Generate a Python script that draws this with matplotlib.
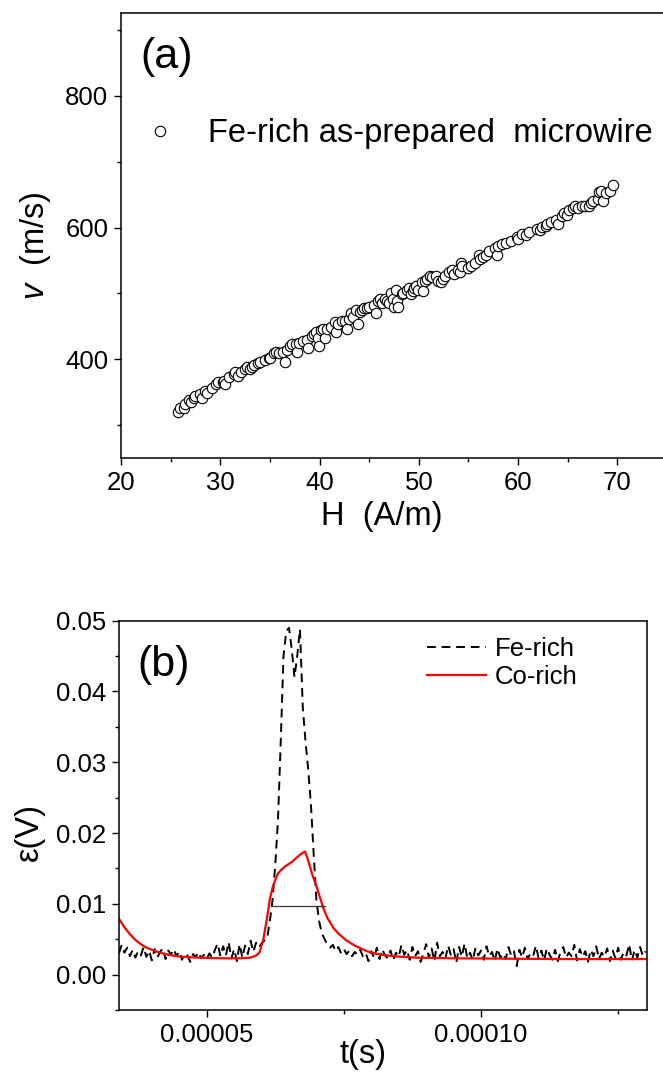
import numpy as np
import matplotlib
matplotlib.use("Agg")
import matplotlib.pyplot as plt
from matplotlib.ticker import MultipleLocator, FormatStrFormatter

plt.rcParams['font.family'] = ['Liberation Sans', 'DejaVu Sans']
plt.rcParams['mathtext.fontset'] = 'custom'
plt.rcParams['mathtext.rm'] = 'Liberation Sans'
plt.rcParams['mathtext.it'] = 'Liberation Sans:italic'

# ---- panel (a): domain wall velocity vs field ----
H_am = [25.7, 25.9, 26.3, 26.4, 26.9, 27.1, 27.4, 27.5, 28.0, 28.2, 28.5, 28.7, 29.2, 29.6,
        29.8, 30.3, 30.4, 30.5, 30.9, 31.4, 31.5, 31.8, 32.1, 32.5, 32.7, 33.0, 33.2, 33.4,
        33.8, 34.0, 34.5, 34.9, 35.0, 35.4, 35.6, 35.9, 36.3, 36.5, 36.7, 37.0, 37.2, 37.6,
        37.7, 37.9, 38.3, 38.7, 38.8, 39.2, 39.4, 39.6, 39.8, 39.9, 40.1, 40.3, 40.5, 40.8,
        41.2, 41.6, 41.7, 41.9, 42.3, 42.6, 42.8, 43.0, 43.2, 43.4, 43.7, 43.9, 44.1, 44.3,
        44.5, 44.8, 45.0, 45.5, 45.7, 45.9, 46.1, 46.3, 46.6, 46.8, 47.0, 47.2, 47.4, 47.5,
        47.7, 47.8, 47.9, 48.3, 48.4, 48.8, 49.0, 49.2, 49.4, 49.5, 49.7, 49.9, 50.3, 50.4,
        50.6, 50.8, 51.1, 51.3, 51.7, 51.9, 52.2, 52.4, 52.6, 53.0, 53.3, 53.5, 53.9, 54.1,
        54.2, 54.4, 55.0, 55.3, 55.7, 56.1, 56.2, 56.5, 56.8, 57.1, 57.7, 57.9, 58.0, 58.4,
        58.8, 59.3, 59.9, 60.0, 60.4, 60.8, 61.1, 61.9, 62.2, 62.4, 62.8, 62.9, 63.3, 63.8,
        64.0, 64.4, 64.6, 64.9, 65.1, 65.5, 65.7, 66.0, 66.4, 66.7, 67.1, 67.3, 67.5, 68.0,
        68.2, 68.4, 68.6, 68.9, 69.3, 69.6]
v_ms = [320, 326, 326, 333, 339, 336, 341, 344, 347, 341, 352, 349, 357, 362,
        365, 365, 368, 362, 373, 378, 381, 375, 381, 386, 389, 386, 389, 391,
        394, 396, 399, 402, 402, 409, 412, 409, 412, 396, 415, 420, 423, 423,
        412, 425, 428, 430, 417, 436, 438, 441, 433, 420, 444, 446, 433, 446,
        449, 457, 441, 454, 459, 459, 446, 462, 470, 465, 475, 454, 472, 475,
        478, 478, 480, 483, 470, 488, 491, 486, 491, 488, 486, 501, 491, 480,
        506, 488, 480, 499, 501, 506, 509, 499, 504, 509, 512, 506, 517, 504,
        519, 522, 527, 525, 527, 519, 517, 522, 527, 533, 535, 530, 535, 533,
        546, 541, 538, 541, 546, 559, 553, 556, 559, 564, 569, 559, 572, 575,
        577, 580, 585, 582, 590, 588, 593, 598, 596, 601, 603, 606, 609, 611,
        606, 617, 622, 619, 627, 630, 632, 630, 632, 633, 632, 638, 640, 643,
        654, 656, 640, 653, 656, 664]

# ---- panel (b): induced voltage pulses ----
# Fe-rich trace, sampled every 0.5 us from 34 us to 130 us (values in mV)
eps_fe_mv = [3.0, 4.2, 3.1, 3.8, 2.6, 3.5, 2.4, 3.3, 2.7, 3.9, 2.5, 3.4, 2.0, 3.6, 2.4, 3.2,
             3.7, 2.2, 3.4, 2.8, 3.6, 2.6, 3.3, 2.1, 3.0, 2.7, 1.8, 2.9, 2.5, 3.2, 2.3, 2.8,
             2.2, 3.0, 2.4, 3.5, 4.4, 2.6, 4.0, 2.7, 4.6, 2.3, 3.6, 1.9, 4.3, 2.4, 4.1, 2.9,
             4.8, 3.2, 4.5, 3.8,
             4.4, 4.8, 5.0, 7.5, 10.5, 15.5, 22.0, 33.0, 45.0, 48.5, 49.0, 46.0, 42.0, 45.0,
             48.8, 38.0, 33.0, 29.0, 24.0, 17.0, 10.5, 7.5, 5.8, 5.0, 4.2, 3.8, 4.2, 3.3,
             3.9, 3.0,
             3.6, 2.9, 3.4, 2.6, 3.2, 2.8, 3.5, 2.5, 3.0, 1.9,
             3.3, 2.4, 3.8, 2.2, 3.6, 2.7, 2.3, 3.4, 2.0, 3.1,
             2.5, 4.2, 2.8, 3.5, 2.1, 3.9, 2.6, 3.3, 1.8, 3.0,
             4.3, 2.4, 3.7, 1.9, 4.5, 2.6, 3.2, 2.2, 4.1, 2.8,
             3.6, 1.7, 3.9, 2.5, 4.4, 2.3, 3.1, 2.0, 3.8, 2.7,
             3.4, 2.1, 4.0, 2.6, 3.2, 1.9, 3.7, 2.4, 3.0, 2.2,
             3.9, 2.7, 3.3, 1.2, 3.5, 2.4, 3.8, 2.2, 3.0, 2.6,
             4.1, 2.3, 3.4, 2.0, 3.7, 2.8, 2.1, 3.5, 1.9, 3.2,
             3.9, 2.4, 3.1, 2.6, 4.2, 2.0, 3.6, 2.5, 3.3, 1.8,
             3.5, 2.6, 4.0, 2.2, 3.1, 2.5, 3.7, 1.9, 3.4, 2.3,
             3.8, 2.1, 3.2, 2.7, 4.3, 2.0, 3.5, 2.4, 3.9, 2.6,
             3.3]
t_fe_us = np.linspace(34.0, 130.0, len(eps_fe_mv))

t_co_us = [33.9, 35.0, 36.0, 37.0, 38.0, 39.0, 40.0, 41.5, 43.0, 45.0, 47.0, 50.0, 53.0,
           56.0, 58.0, 59.0, 59.6, 60.3, 61.0, 61.5, 62.0, 62.5, 63.0, 63.7, 64.5, 65.5,
           66.5, 67.3, 67.9, 68.3, 68.8, 69.3, 70.0, 70.6, 71.3, 72.0, 73.1, 74.0, 75.5,
           77.0, 79.2, 81.0, 84.0, 88.0, 95.0, 105.0, 115.0, 130.5]
eps_co_mv = [8.0, 6.7, 5.7, 4.9, 4.3, 3.8, 3.5, 3.1, 2.8, 2.55, 2.45, 2.35, 2.3,
             2.3, 2.4, 2.7, 3.1, 4.9, 8.0, 10.6, 12.3, 13.4, 14.3, 14.9, 15.4, 15.9,
             16.6, 17.1, 17.4, 16.6, 15.3, 14.0, 12.5, 11.0, 9.3, 8.0, 6.6, 5.8, 4.8,
             4.1, 3.3, 2.9, 2.6, 2.4, 2.3, 2.25, 2.2, 2.2]

fwhm_t_us = [61.8, 71.6]
fwhm_level_mv = 9.7

t_fe = t_fe_us * 1e-6
eps_fe = np.array(eps_fe_mv) * 1e-3
t_co = np.array(t_co_us) * 1e-6
eps_co = np.array(eps_co_mv) * 1e-3

W, Hh = 663, 1076
fig = plt.figure(figsize=(W / 100, Hh / 100), dpi=100)

tick_fs = 18.5
label_fs = 23.5

def style_axis(ax):
    for sp in ax.spines.values():
        sp.set_linewidth(1.1)
    ax.tick_params(which='major', direction='out', length=5, width=1.0,
                   labelsize=tick_fs, pad=4, top=False, right=False)
    ax.tick_params(which='minor', direction='out', length=3, width=1.0,
                   top=False, right=False)

# panel (a)
ax1 = fig.add_axes([121 / W, 1 - 458.3 / Hh, 546 / W, 445 / Hh])
ax1.plot(H_am, v_ms, 'o', ms=7.5, mfc='white', mec='black', mew=0.8,
         label='Fe-rich as-prepared  microwire')
ax1.set_xlim(20, 75)
ax1.set_ylim(250, 925)
ax1.xaxis.set_major_locator(MultipleLocator(10))
ax1.xaxis.set_minor_locator(MultipleLocator(5))
ax1.yaxis.set_major_locator(MultipleLocator(200))
ax1.yaxis.set_minor_locator(MultipleLocator(100))
style_axis(ax1)
ax1.set_xlabel('H  (A/m)', fontsize=label_fs)
ax1.set_ylabel(r'$v$  (m/s)', fontsize=label_fs)
ax1.xaxis.set_label_coords(0.478, -0.095)
ax1.yaxis.set_label_coords(-0.125, 0.477)
ax1.text(0.035, 0.876, '(a)', transform=ax1.transAxes, fontsize=31,
         ha='left', va='baseline')
ax1.legend(loc='center left', bbox_to_anchor=(0.012, 0.730), frameon=False,
           fontsize=23.5, handlelength=2.0, handletextpad=0.47, borderpad=0,
           borderaxespad=0, numpoints=1)

# panel (b)
ax2 = fig.add_axes([118.7 / W, 1 - 1010 / Hh, 528 / W, 389.3 / Hh])
ax2.plot(t_fe, eps_fe, color='black', lw=1.4, dashes=(4.5, 3), label='Fe-rich')
ax2.plot(t_co, eps_co, color='#ff0000', lw=1.6, label='Co-rich')
ax2.plot(np.array(fwhm_t_us) * 1e-6, [fwhm_level_mv * 1e-3] * 2, color='0.2', lw=0.9)
ax2.set_xlim(3.396e-5, 1.302e-4)
ax2.set_ylim(-0.005, 0.05)
ax2.xaxis.set_major_locator(MultipleLocator(5e-5))
ax2.xaxis.set_minor_locator(MultipleLocator(2.5e-5))
ax2.yaxis.set_major_locator(MultipleLocator(0.01))
ax2.yaxis.set_minor_locator(MultipleLocator(0.005))
ax2.xaxis.set_major_formatter(FormatStrFormatter('%.5f'))
ax2.yaxis.set_major_formatter(FormatStrFormatter('%.2f'))
style_axis(ax2)
ax2.set_xlabel('t(s)', fontsize=label_fs)
ax2.set_ylabel('ε(V)', fontsize=label_fs)
ax2.xaxis.set_label_coords(0.4636, -0.074)
ax2.yaxis.set_label_coords(-0.14, 0.457)
ax2.text(0.035, 0.858, '(b)', transform=ax2.transAxes, fontsize=31,
         ha='left', va='baseline')
ax2.legend(loc='upper left', bbox_to_anchor=(0.584, 0.957), frameon=False,
           fontsize=18.5, handlelength=2.3, handletextpad=0.33, borderpad=0,
           borderaxespad=0, labelspacing=0.15)

fig.savefig('out.png', dpi=100)
